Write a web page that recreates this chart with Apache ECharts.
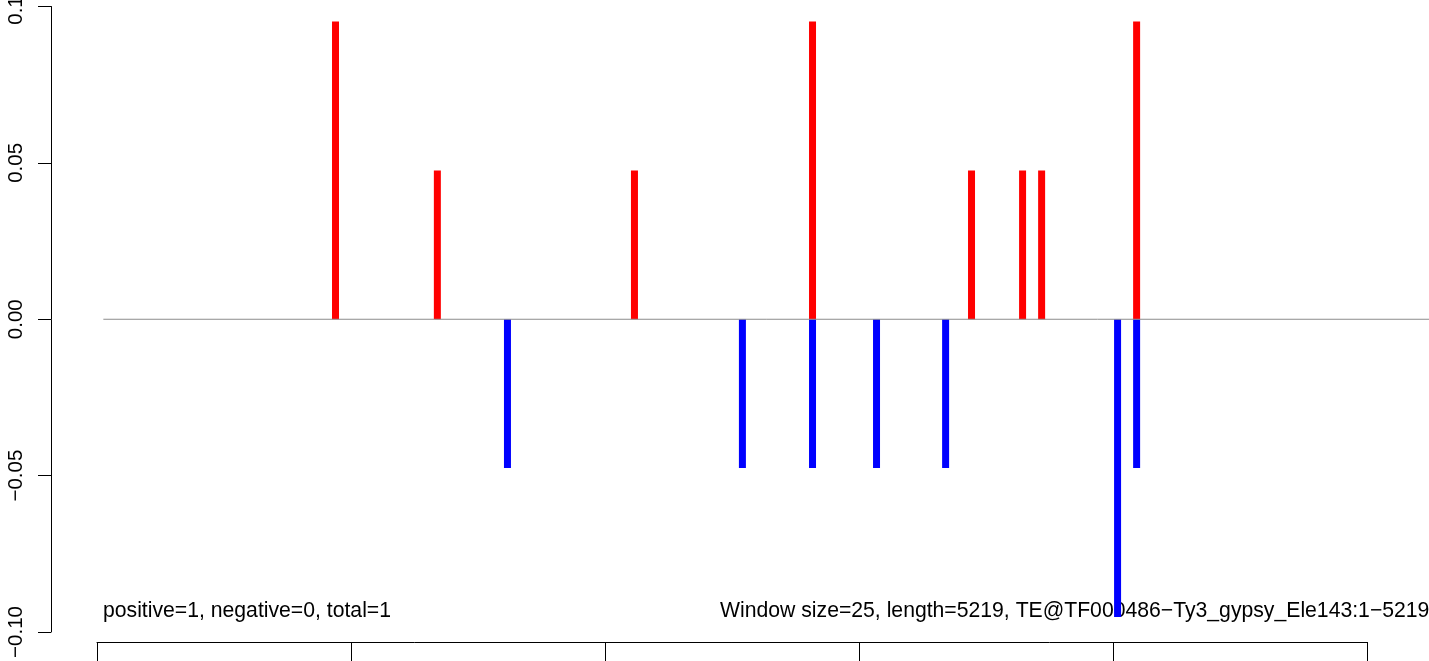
<!DOCTYPE html>
<html>
<head>
<meta charset="utf-8">
<script src="https://cdn.jsdelivr.net/npm/echarts@6/dist/echarts.min.js"></script>
<style>
html,body{margin:0;padding:0;background:#fff;}
#chart{width:1429px;height:661px;}
</style>
</head>
<body>
<div id="chart"></div>
<script>
// ---- data ----
const posPositions = [939, 1340, 2116, 2817, 3443, 3644, 3719, 4093];
const posValues    = [0.0952, 0.0476, 0.0476, 0.0952, 0.0476, 0.0476, 0.0476, 0.0952];
const negPositions = [1616, 2541, 2817, 3069, 3341, 4018, 4093];
const negValues    = [-0.0476, -0.0476, -0.0476, -0.0476, -0.0476, -0.0952, -0.0476];
const yTickValues  = [-0.1, -0.05, 0, 0.05, 0.1];
const yTickLabels  = ['\u22120.10', '\u22120.05', '0.00', '0.05', '0.1'];
const xTickValues  = [0, 1000, 2000, 3000, 4000, 5000];
const leftNote  = 'positive=1, negative=0, total=1';
const rightNote = 'Window size=25, length=5219, TE@TF000486\u2212Ty3_gypsy_Ele143:1\u22125219';
const zeroLineFrom = 25;

const FONT = '"Liberation Sans", Arial, Helvetica, sans-serif';
const chart = echarts.init(document.getElementById('chart'), null, {renderer: 'canvas'});

const xMin = -181.1, xMax = 5244.1;

function labelFor(v) {
  for (let i = 0; i < yTickValues.length; i++) {
    if (Math.abs(yTickValues[i] - v) < 1e-9) {
      return i === yTickValues.length - 1 ? '{top|' + yTickLabels[i] + '}' : yTickLabels[i];
    }
  }
  return '';
}

const option = {
  backgroundColor: '#ffffff',
  animation: false,
  grid: [
    {left: 51, right: 0, top: 6.5, bottom: 29, containLabel: false, outerBoundsMode: 'none'},
    {left: 97, width: 1270, top: 641, height: 1, containLabel: false, outerBoundsMode: 'none'}
  ],
  xAxis: [
    {type: 'value', gridIndex: 0, min: xMin, max: xMax, show: false},
    {type: 'value', gridIndex: 1, min: xTickValues[0], max: xTickValues[xTickValues.length - 1],
     interval: 1000, position: 'bottom',
     axisLine: {show: true, onZero: false, lineStyle: {color: '#000', width: 1}},
     axisTick: {show: true, length: 22, lineStyle: {color: '#000', width: 1}},
     axisLabel: {show: false}, splitLine: {show: false}}
  ],
  yAxis: [
    {type: 'value', gridIndex: 0, min: -0.1, max: 0.1, interval: 0.05, position: 'left',
     axisLine: {show: true, onZero: false, lineStyle: {color: '#000', width: 1}},
     axisTick: {show: true, length: 13, lineStyle: {color: '#000', width: 1}},
     axisLabel: {show: true, rotate: 90, margin: 24, color: '#000', fontSize: 20.5, fontFamily: FONT,
                 formatter: labelFor,
                 rich: {top: {color: '#000', fontSize: 20.5, fontFamily: FONT, padding: [0, 8, 0, 0]}}},
     splitLine: {show: false}},
    {type: 'value', gridIndex: 1, show: false, min: 0, max: 1}
  ],
  series: [
    {name: 'positive', type: 'bar', xAxisIndex: 0, yAxisIndex: 0, barWidth: 7, barGap: '-100%',
     itemStyle: {color: '#ff0000'}, silent: true, z: 2,
     data: posPositions.map((x, i) => [x, posValues[i]])},
    {name: 'negative', type: 'bar', xAxisIndex: 0, yAxisIndex: 0, barWidth: 7, barGap: '-100%',
     itemStyle: {color: '#0000ff'}, silent: true, z: 2,
     data: negPositions.map((x, i) => [x, negValues[i]])},
    {name: 'zero', type: 'line', xAxisIndex: 0, yAxisIndex: 0, symbol: 'none', silent: true, z: 3,
     lineStyle: {color: '#8c8c8c', width: 1},
     data: [[zeroLineFrom, 0], [xMax, 0]]}
  ],
  graphic: [
    {type: 'text', left: 103, top: 601, silent: true,
     style: {text: leftNote, fill: '#000', font: '21.2px ' + FONT}},
    {type: 'text', left: 720, top: 601, silent: true,
     style: {text: rightNote, fill: '#000', font: '21.2px ' + FONT}}
  ]
};
chart.setOption(option);
</script>
</body>
</html>
